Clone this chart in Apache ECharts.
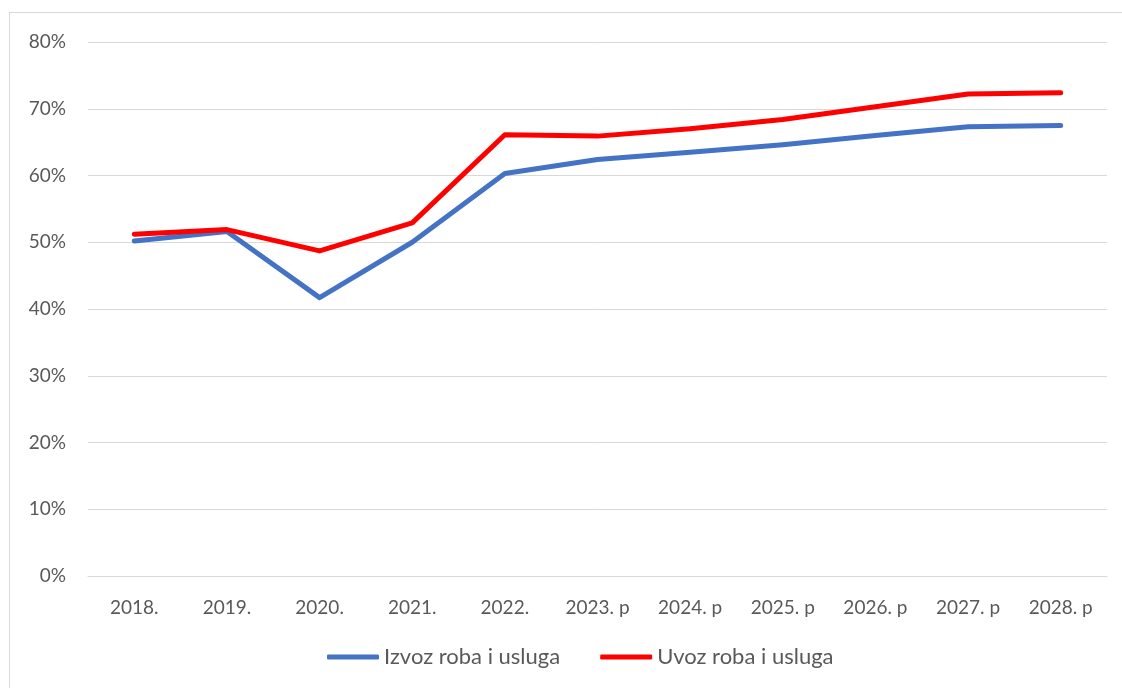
<!DOCTYPE html>
<html>
<head>
<meta charset="utf-8">
<script src="https://cdn.jsdelivr.net/npm/echarts@6/dist/echarts.min.js"></script>
<style>
  html, body { margin: 0; padding: 0; background: #fff; overflow: hidden; }
  #frame { position: absolute; left: 9px; top: 12px; width: 1200px; height: 800px; border: 1px solid #d9d9d9; border-width: 1px 0 0 1px; box-sizing: border-box; }
  #chart { position: absolute; left: 0; top: 0; width: 1122px; height: 688px; }
</style>
</head>
<body>
<div id="frame"></div>
<div id="chart"></div>
<script>
// Godine (p = projekcija)
const years = ['2018.', '2019.', '2020.', '2021.', '2022.', '2023. p', '2024. p', '2025. p', '2026. p', '2027. p', '2028. p'];
// Udio u BDP-u, %
const izvoz = [50.2, 51.6, 41.7, 50.0, 60.3, 62.4, 63.5, 64.6, 66.0, 67.3, 67.5];
const uvoz  = [51.2, 51.9, 48.7, 52.9, 66.1, 65.9, 67.0, 68.4, 70.3, 72.2, 72.4];

const textColor = '#595959';
const font = 'Lato, Open Sans, sans-serif';

const chart = echarts.init(document.getElementById('chart'), null, { renderer: 'canvas' });
chart.setOption({
  animation: false,
  textStyle: { fontFamily: font },
  grid: { left: 88, right: 15, top: 42, bottom: 112, containLabel: false },
  legend: {
    bottom: 15,
    left: 322,
    itemWidth: 52,
    itemHeight: 5,
    itemGap: 40,
    icon: 'roundRect',
    textStyle: { color: textColor, fontSize: 22, fontFamily: font },
    data: ['Izvoz roba i usluga', 'Uvoz roba i usluga']
  },
  xAxis: {
    type: 'category',
    data: years,
    boundaryGap: true,
    axisLine: { show: true, lineStyle: { color: '#d9d9d9', width: 1 } },
    axisTick: { show: false },
    axisLabel: { color: textColor, fontSize: 19, margin: 22, fontFamily: font }
  },
  yAxis: {
    type: 'value',
    min: 0,
    max: 80,
    interval: 10,
    axisLine: { show: false },
    axisTick: { show: false },
    axisLabel: { color: textColor, fontSize: 19, margin: 22, formatter: '{value}%', fontFamily: font },
    splitLine: { lineStyle: { color: '#d9d9d9', width: 1 } }
  },
  series: [
    {
      name: 'Izvoz roba i usluga',
      type: 'line',
      data: izvoz,
      symbol: 'none',
      lineStyle: { color: '#4472C4', width: 5, cap: 'round', join: 'round' },
      itemStyle: { color: '#4472C4' }
    },
    {
      name: 'Uvoz roba i usluga',
      type: 'line',
      data: uvoz,
      symbol: 'none',
      lineStyle: { color: '#FF0000', width: 5, cap: 'round', join: 'round' },
      itemStyle: { color: '#FF0000' }
    }
  ]
});
</script>
</body>
</html>
